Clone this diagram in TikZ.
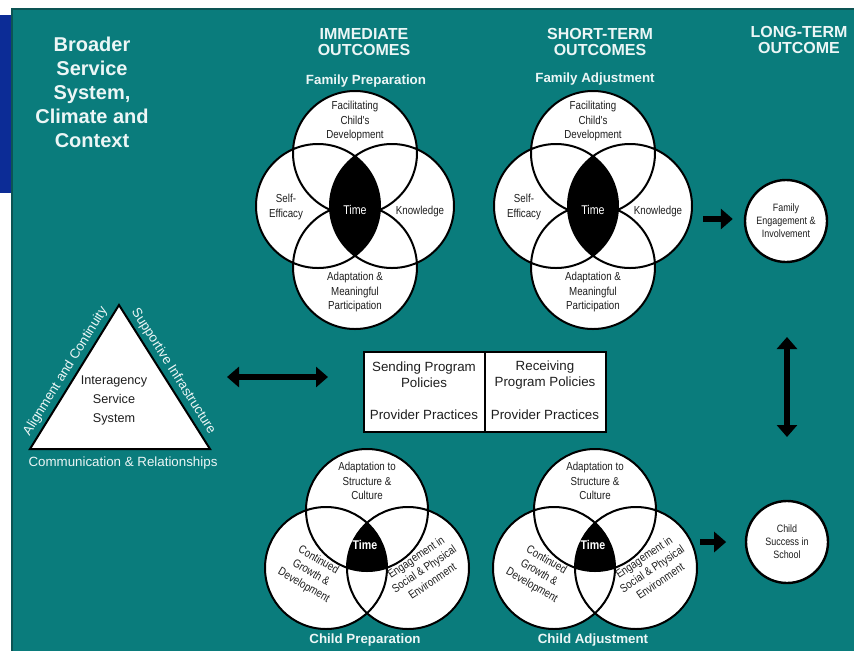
\documentclass[tikz,border=0pt]{standalone}
\usepackage{fontspec}
\setmainfont{Liberation Sans}
\newfontfamily\narrowsans[FakeStretch=0.84]{Liberation Sans}
\usetikzlibrary{arrows.meta}
\definecolor{panelteal}{RGB}{10,124,124}
\definecolor{edgeteal}{RGB}{12,84,84}
\definecolor{panelblue}{RGB}{12,44,150}
\definecolor{paleink}{RGB}{236,246,246}
\definecolor{darkink}{RGB}{30,30,30}
\begin{document}
\begin{tikzpicture}[x=0.75pt,y=-0.75pt,
  heading/.style={text=paleink, font=\fontsize{12}{12}\selectfont\bfseries, align=center, inner sep=0pt},
  subhead/.style={text=paleink, font=\fontsize{10}{12}\selectfont\bfseries, inner sep=0pt},
  venn/.style={draw=black, line width=1.5pt},
  venntext/.style={text=darkink, font=\narrowsans\fontsize{8.7}{10.9}\selectfont, align=center, inner sep=0pt},
  timetext/.style={text=white, font=\narrowsans\fontsize{9.5}{11}\selectfont\bfseries, inner sep=0pt},
  outcome/.style={circle, draw=black, line width=1.8pt, fill=white, minimum size=82*0.75pt,
    inner sep=0pt, align=center, text=darkink, font=\narrowsans\fontsize{8}{9.75}\selectfont},
  arrowtip/.tip={Triangle[length=9pt,width=15pt]},
  bigarrow/.style={line width=4.8pt, -arrowtip},
  dblarrow/.style={line width=4.8pt, arrowtip-arrowtip},
  pbox/.style={draw=black, line width=1.2pt, fill=white, minimum width=121*0.75pt,
    minimum height=80*0.75pt, inner sep=0pt},
  boxtext/.style={text=darkink, font=\fontsize{10}{12}\selectfont, align=center, inner sep=0pt},
  sidelabel/.style={text=paleink, font=\fontsize{10}{12}\selectfont, inner sep=0pt},
]
\useasboundingbox (0,0) rectangle (854,651);
\fill[white] (0,0) rectangle (854,651);

% background panels
\fill[panelblue] (0,15) rectangle (12,193);
\fill[panelteal] (11,8) rectangle (854,651);
\fill[edgeteal] (11,8) rectangle (854,10);
\fill[edgeteal] (11,8) rectangle (13,651);

% title and column headings
\node[heading, font=\fontsize{15}{18}\selectfont\bfseries] (context) at (92,92)
  {Broader\\Service\\System,\\Climate and\\Context};
\node[heading] (imm) at (364,42) {IMMEDIATE\\OUTCOMES};
\node[heading] (short) at (600,42) {SHORT-TERM\\OUTCOMES};
\node[heading] (long) at (799,40) {LONG-TERM\\OUTCOME};
\node[subhead] (fprep) at (366,81) {Family Preparation};
\node[subhead] (fadj) at (595,79) {Family Adjustment};

% four-circle family diagrams
\foreach \cx/\tag in {355/prep, 593/adj}{
  \begin{scope}[shift={(\cx,210)}]
    \fill[white] (0,-57) circle[radius=62] (0,57) circle[radius=62]
                 (-37,-4) circle[radius=62] (37,-4) circle[radius=62];
    \begin{scope}
      \clip (-37,-4) circle[radius=62];
      \fill[black] (37,-4) circle[radius=62];
    \end{scope}
    \draw[venn] (0,-57) circle[radius=62] (0,57) circle[radius=62]
                (-37,-4) circle[radius=62] (37,-4) circle[radius=62];
    \node[venntext] (\tag-dev) at (0,-89) {Facilitating\\Child's\\Development};
    \node[venntext] (\tag-eff) at (-69,-3) {Self-\\Efficacy};
    \node[venntext] (\tag-know) at (65,1) {Knowledge};
    \node[timetext, font=\narrowsans\fontsize{9.5}{11}\selectfont] (\tag-time) at (0,0) {Time};
    \node[venntext] (\tag-adapt) at (0,82) {Adaptation \&\\Meaningful\\Participation};
  \end{scope}
}

% three-circle child diagrams
\foreach \cx/\tag/\label in {367/cprep/Child Preparation, 595/cadj/Child Adjustment}{
  \begin{scope}[shift={(\cx,545)}]
    \fill[white] (0,-35) circle[radius=61] (-41,23) circle[radius=61] (41,23) circle[radius=61];
    \begin{scope}
      \clip (0,-35) circle[radius=61];
      \clip (-41,23) circle[radius=61];
      \fill[black] (41,23) circle[radius=61];
    \end{scope}
    \draw[venn] (0,-35) circle[radius=61] (-41,23) circle[radius=61] (41,23) circle[radius=61];
    \node[venntext] (\tag-cult) at (0,-64) {Adaptation to\\Structure \&\\Culture};
    \node[venntext, rotate=-30] (\tag-grow) at (-56,28) {Continued\\Growth \&\\Development};
    \node[venntext, rotate=34] (\tag-env) at (57,24) {Engagement in\\Social \& Physical\\Environment};
    \node[timetext] (\tag-time) at (-2,0) {Time};
    \node[subhead] (\tag-title) at (-2,95) {\label};
  \end{scope}
}

% interagency service system triangle
\coordinate (tri-a) at (119,305);
\coordinate (tri-l) at (30,449);
\coordinate (tri-r) at (210,449);
\draw[line width=1.5pt, fill=white] (tri-a) -- (tri-l) -- (tri-r) -- cycle;
\node[boxtext, font=\fontsize{9.5}{14.25}\selectfont] (iss) at (114,400) {Interagency\\Service\\System};
\path (tri-l) -- (tri-a) node[midway, sloped, above=3pt, sidelabel] (align) {Alignment and Continuity};
\path (tri-a) -- (tri-r) node[midway, sloped, above=3pt, sidelabel] (infra) {Supportive Infrastructure};
\node[sidelabel] (comm) at (123,463) {Communication \& Relationships};

% policies and practices box
\node[pbox] (send) at (424.5,392) {};
\node[pbox] (recv) at (545.5,392) {};
\node[boxtext] (send-pol) at (424,375) {Sending Program\\Policies};
\node[boxtext] (send-prac) at (424,415) {Provider Practices};
\node[boxtext] (recv-pol) at (545,375) {Receiving\\Program Policies};
\node[boxtext] (recv-prac) at (545,415) {Provider Practices};

% long-term outcomes
\node[outcome] (famout) at (786,221) {Family\\Engagement \&\\Involvement};
\node[outcome] (childout) at (787,542) {Child\\Success in\\School};

% arrows
\coordinate (sys-l) at (227,377);
\coordinate (sys-r) at (328,377);
\draw[dblarrow] (sys-l) -- (sys-r);
\coordinate (fam-in) at (703,219);
\draw[bigarrow, shorten >=8.25pt] (fam-in) -- (fam-in -| famout.west);
\coordinate (child-in) at (700,542);
\draw[bigarrow, shorten >=14pt] (child-in) -- (child-in -| childout.west);
\coordinate (link-t) at (787,337);
\coordinate (link-b) at (787,437);
\draw[dblarrow] (link-t) -- (link-b);
\end{tikzpicture}
\end{document}
